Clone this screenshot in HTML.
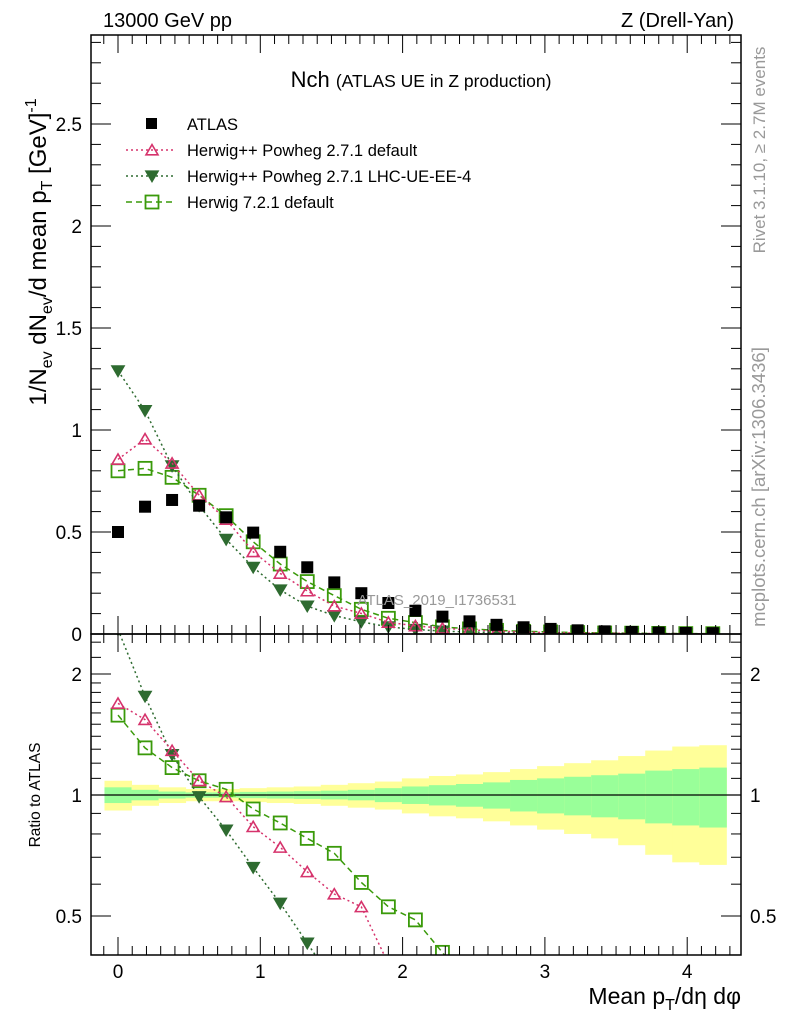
<!DOCTYPE html>
<html><head><meta charset="utf-8"><style>
body{margin:0;background:#fff;}
svg{display:block;font-family:"Liberation Sans",sans-serif;}
</style></head><body>
<svg id="c" width="786" height="1024" viewBox="0 0 786 1024">
<defs>
<clipPath id="cm"><rect x="91" y="35" width="650" height="599"/></clipPath>
<clipPath id="cr"><rect x="91" y="634" width="650" height="321"/></clipPath>
</defs>
<g id="bands" clip-path="url(#cr)"></g>
<g id="marks"></g>
<g id="axes"></g>
<text x="103" y="27" font-size="20">13000 GeV pp</text>
<text x="734" y="27" font-size="20" text-anchor="end">Z (Drell-Yan)</text>
<text x="421" y="87" font-size="22" text-anchor="middle">Nch <tspan font-size="17.5">(ATLAS UE in Z production)</tspan></text>
<text x="437" y="605" font-size="15" fill="#999" text-anchor="middle">ATLAS_2019_I1736531</text>
<text transform="translate(46,252) rotate(-90)" font-size="24" text-anchor="middle">1/N<tspan font-size="16" dy="6">ev</tspan><tspan dy="-6"> dN</tspan><tspan font-size="16" dy="6">ev</tspan><tspan dy="-6">/d mean p</tspan><tspan font-size="16" dy="6">T</tspan><tspan dy="-6"> [GeV]</tspan><tspan font-size="16" dy="-10">-1</tspan></text>
<text transform="translate(40,795) rotate(-90)" font-size="15.5" text-anchor="middle">Ratio to ATLAS</text>
<text x="741" y="1004" font-size="23" text-anchor="end">Mean p<tspan font-size="16" dy="6">T</tspan><tspan dy="-6">/dη dφ</tspan></text>
<text transform="translate(765,150) rotate(-90)" font-size="17" fill="#999" text-anchor="middle">Rivet 3.1.10, ≥ 2.7M events</text>
<text transform="translate(765,487) rotate(-90)" font-size="18.5" fill="#999" text-anchor="middle">mcplots.cern.ch [arXiv:1306.3436]</text>
<g id="legend"></g>
</svg>
<script>
const xs=[0,0.19,0.38,0.57,0.76,0.95,1.14,1.33,1.52,1.71,1.9,2.09,2.28,2.47,2.66,2.85,3.04,3.23,3.42,3.61,3.8,3.99,4.18];
const atlas=[0.5,0.624,0.657,0.629,0.572,0.497,0.403,0.327,0.253,0.2,0.152,0.114,0.085,0.062,0.045,0.033,0.025,0.018,0.013,0.01,0.007,0.005,0.004];
const powDef=[0.856,0.956,0.837,0.681,0.562,0.403,0.297,0.211,0.137,0.101,0.057,0.04,0.028,0.02,0.014,0.01,0.007,0.005,0.004,0.003,0.002,0.0015,0.001];
const powUE=[1.29,1.095,0.824,0.629,0.464,0.327,0.216,0.137,0.09,0.06,0.035,0.022,0.014,0.01,0.007,0.005,0.004,0.003,0.002,0.0015,0.001,0.001,0.0008];
const h721=[0.8,0.812,0.768,0.68,0.58,0.452,0.343,0.257,0.188,0.121,0.077,0.056,0.035,0.025,0.018,0.013,0.01,0.007,0.005,0.004,0.003,0.002,0.0015];
const rPowDef=[1.69,1.54,1.29,1.085,0.99,0.834,0.741,0.644,0.567,0.527,0.38];
const rPowUE=[2.58,1.76,1.26,0.99,0.818,0.66,0.538,0.428,0.34];
const rH721=[1.58,1.31,1.17,1.085,1.033,0.923,0.852,0.78,0.716,0.606,0.527,0.489,0.406,0.33];
const errTot=[0.085,0.06,0.045,0.035,0.035,0.04,0.045,0.05,0.06,0.07,0.08,0.1,0.115,0.125,0.14,0.16,0.18,0.2,0.22,0.25,0.29,0.32,0.33];
const errStat=[0.045,0.03,0.02,0.015,0.015,0.018,0.02,0.022,0.025,0.03,0.04,0.05,0.058,0.065,0.075,0.09,0.1,0.11,0.12,0.13,0.15,0.16,0.17];
const xTicks=[0,1,2,3,4];
const yTicks=[0,0.5,1,1.5,2,2.5];
const yTickLabels=["0","0.5","1","1.5","2","2.5"];
const rTicks=[0.5,1,2];
const rTickLabels=["0.5","1","2"];

const NS="http://www.w3.org/2000/svg";
const L=91,R=741,T=35,MB=634,RB=955;
const X=v=>118+v*142.3;
const Y=v=>634-v*204;
const RY=v=>795-121*Math.log2(v);
function mk(tag,attrs,parent){const e=document.createElementNS(NS,tag);for(const k in attrs)e.setAttribute(k,attrs[k]);parent.appendChild(e);return e;}
const axes=document.getElementById('axes'),marks=document.getElementById('marks'),bands=document.getElementById('bands'),legend=document.getElementById('legend');

const hw=0.095;
xs.forEach((x,i)=>{
  const y=mk('rect',{x:X(x-hw),width:X(x+hw)-X(x-hw)+0.5,y:RY(1+errTot[i]),height:RY(1-errTot[i])-RY(1+errTot[i]),fill:'#ffff99'},bands);
  
  
  const g=mk('rect',{x:X(x-hw),width:X(x+hw)-X(x-hw)+0.5,y:RY(1+errStat[i]),height:RY(1-errStat[i])-RY(1+errStat[i]),fill:'#99ff99'},bands);
  
  
});
mk('line',{x1:L,x2:R,y1:RY(1),y2:RY(1),stroke:'#000','stroke-width':1.2},bands);

function tri(g,cx,cy,color,down,fill){
  const s=6;const p=down?`${cx-s},${cy-s*0.8} ${cx+s},${cy-s*0.8} ${cx},${cy+s*0.9}`:`${cx-s},${cy+s*0.8} ${cx+s},${cy+s*0.8} ${cx},${cy-s*0.9}`;
  return mk('polygon',{points:p,fill:fill?color:'#fff','fill-opacity':fill?1:0,stroke:color,'stroke-width':1.6},g);
}
function sq(g,cx,cy,color){return mk('rect',{x:cx-6.5,y:cy-6.5,width:13,height:13,fill:'none',stroke:color,'stroke-width':1.8},g);}

function series(parent,vals,yf,color,dash,kind,name){
  const g=mk('g',{},parent);
  
  
  const pts=vals.map((v,i)=>X(xs[i]).toFixed(1)+','+yf(v).toFixed(1)).join(' ');
  mk('polyline',{points:pts,fill:'none',stroke:color,'stroke-width':1.5,'stroke-dasharray':dash},g);
  vals.forEach((v,i)=>{
    let m;
    if(kind==='up')m=tri(g,X(xs[i]),yf(v),color,false,false);
    else if(kind==='down')m=tri(g,X(xs[i]),yf(v),color,true,true);
    else m=sq(g,X(xs[i]),yf(v),color);
    
    
  });
}
const gm=mk('g',{'clip-path':'url(#cm)'},marks);
const gr=mk('g',{'clip-path':'url(#cr)'},marks);
const cDef='#d6336c',cUE='#2e6b30',cH='#3a9a0a';
series(gm,h721,Y,cH,'6,4','sq','herwig721-main');
series(gm,powUE,Y,cUE,'2,3','down','powheg-ue-main');
series(gm,powDef,Y,cDef,'2,3','up','powheg-default-main');
{const g=mk('g',{},gm);
 atlas.forEach((v,i)=>{const r=mk('rect',{x:X(xs[i])-6,y:Y(v)-6,width:12,height:12,fill:'#000'},g);});}
series(gr,rH721,RY,cH,'6,4','sq','herwig721-ratio');
series(gr,rPowUE,RY,cUE,'2,3','down','powheg-ue-ratio');
series(gr,rPowDef,RY,cDef,'2,3','up','powheg-default-ratio');

mk('rect',{x:L,y:T,width:R-L,height:MB-T,fill:'none',stroke:'#000','stroke-width':1.5},axes);
mk('rect',{x:L,y:MB,width:R-L,height:RB-MB,fill:'none',stroke:'#000','stroke-width':1.5},axes);
for(let v=-0.1;v<=4.35;v+=0.1){
  const vv=Math.round(v*10)/10;const major=Math.abs(vv-Math.round(vv))<1e-6;const len=major?18:9;const x=X(vv);
  if(x<L||x>R)continue;
  mk('line',{x1:x,x2:x,y1:MB,y2:MB-len,stroke:'#000'},axes);
  mk('line',{x1:x,x2:x,y1:T,y2:T+len,stroke:'#000'},axes);
  mk('line',{x1:x,x2:x,y1:RB,y2:RB-len,stroke:'#000'},axes);
  mk('line',{x1:x,x2:x,y1:MB,y2:MB+len,stroke:'#000'},axes);
}
xTicks.forEach(v=>{const t=mk('text',{x:X(v),y:978,'font-size':19,'text-anchor':'middle'},axes);t.textContent=v;});
for(let k=0;k<=29;k++){const v=k/10;const major=k%5===0;const len=major?20:10;const y=Y(v);
  mk('line',{x1:L,x2:L+len,y1:y,y2:y,stroke:'#000'},axes);mk('line',{x1:R,x2:R-len,y1:y,y2:y,stroke:'#000'},axes);}
yTicks.forEach((v,i)=>{const t=mk('text',{x:82,y:Y(v)+7,'font-size':19,'text-anchor':'end'},axes);t.textContent=yTickLabels[i];});
[0.4,0.5,0.6,0.7,0.8,0.9,1,1.1,1.2,1.3,1.4,1.5,1.6,1.7,1.8,1.9,2,2.2,2.4].forEach(v=>{const y=RY(v);if(y<MB||y>RB)return;const major=(v===0.5||v===1||v===2);const len=major?20:10;
  mk('line',{x1:L,x2:L+len,y1:y,y2:y,stroke:'#000'},axes);mk('line',{x1:R,x2:R-len,y1:y,y2:y,stroke:'#000'},axes);});
rTicks.forEach((v,i)=>{
  const t=mk('text',{x:82,y:RY(v)+7,'font-size':19,'text-anchor':'end'},axes);t.textContent=rTickLabels[i];
  const t2=mk('text',{x:750,y:RY(v)+7,'font-size':19},axes);t2.textContent=rTickLabels[i];
});
const leg=[["ATLAS","#000",null,'data'],["Herwig++ Powheg 2.7.1 default",cDef,'2,3','up'],["Herwig++ Powheg 2.7.1 LHC-UE-EE-4",cUE,'2,3','down'],["Herwig 7.2.1 default",cH,'6,4','sq']];
leg.forEach((e,i)=>{const y=124+26*i;const g=mk('g',{},legend);
  
  
  if(e[2])mk('line',{x1:126,x2:176,y1:y,y2:y,stroke:e[1],'stroke-width':1.5,'stroke-dasharray':e[2]},g);
  if(e[3]==='data')mk('rect',{x:146,y:y-6,width:11,height:11,fill:'#000'},g);
  else if(e[3]==='up')tri(g,152,y,e[1],false,false);
  else if(e[3]==='down')tri(g,152,y,e[1],true,true);
  else sq(g,152,y,e[1]);
  const t=mk('text',{x:187,y:y+6,'font-size':16.5},g);t.textContent=e[0];});
</script>
</body></html>
